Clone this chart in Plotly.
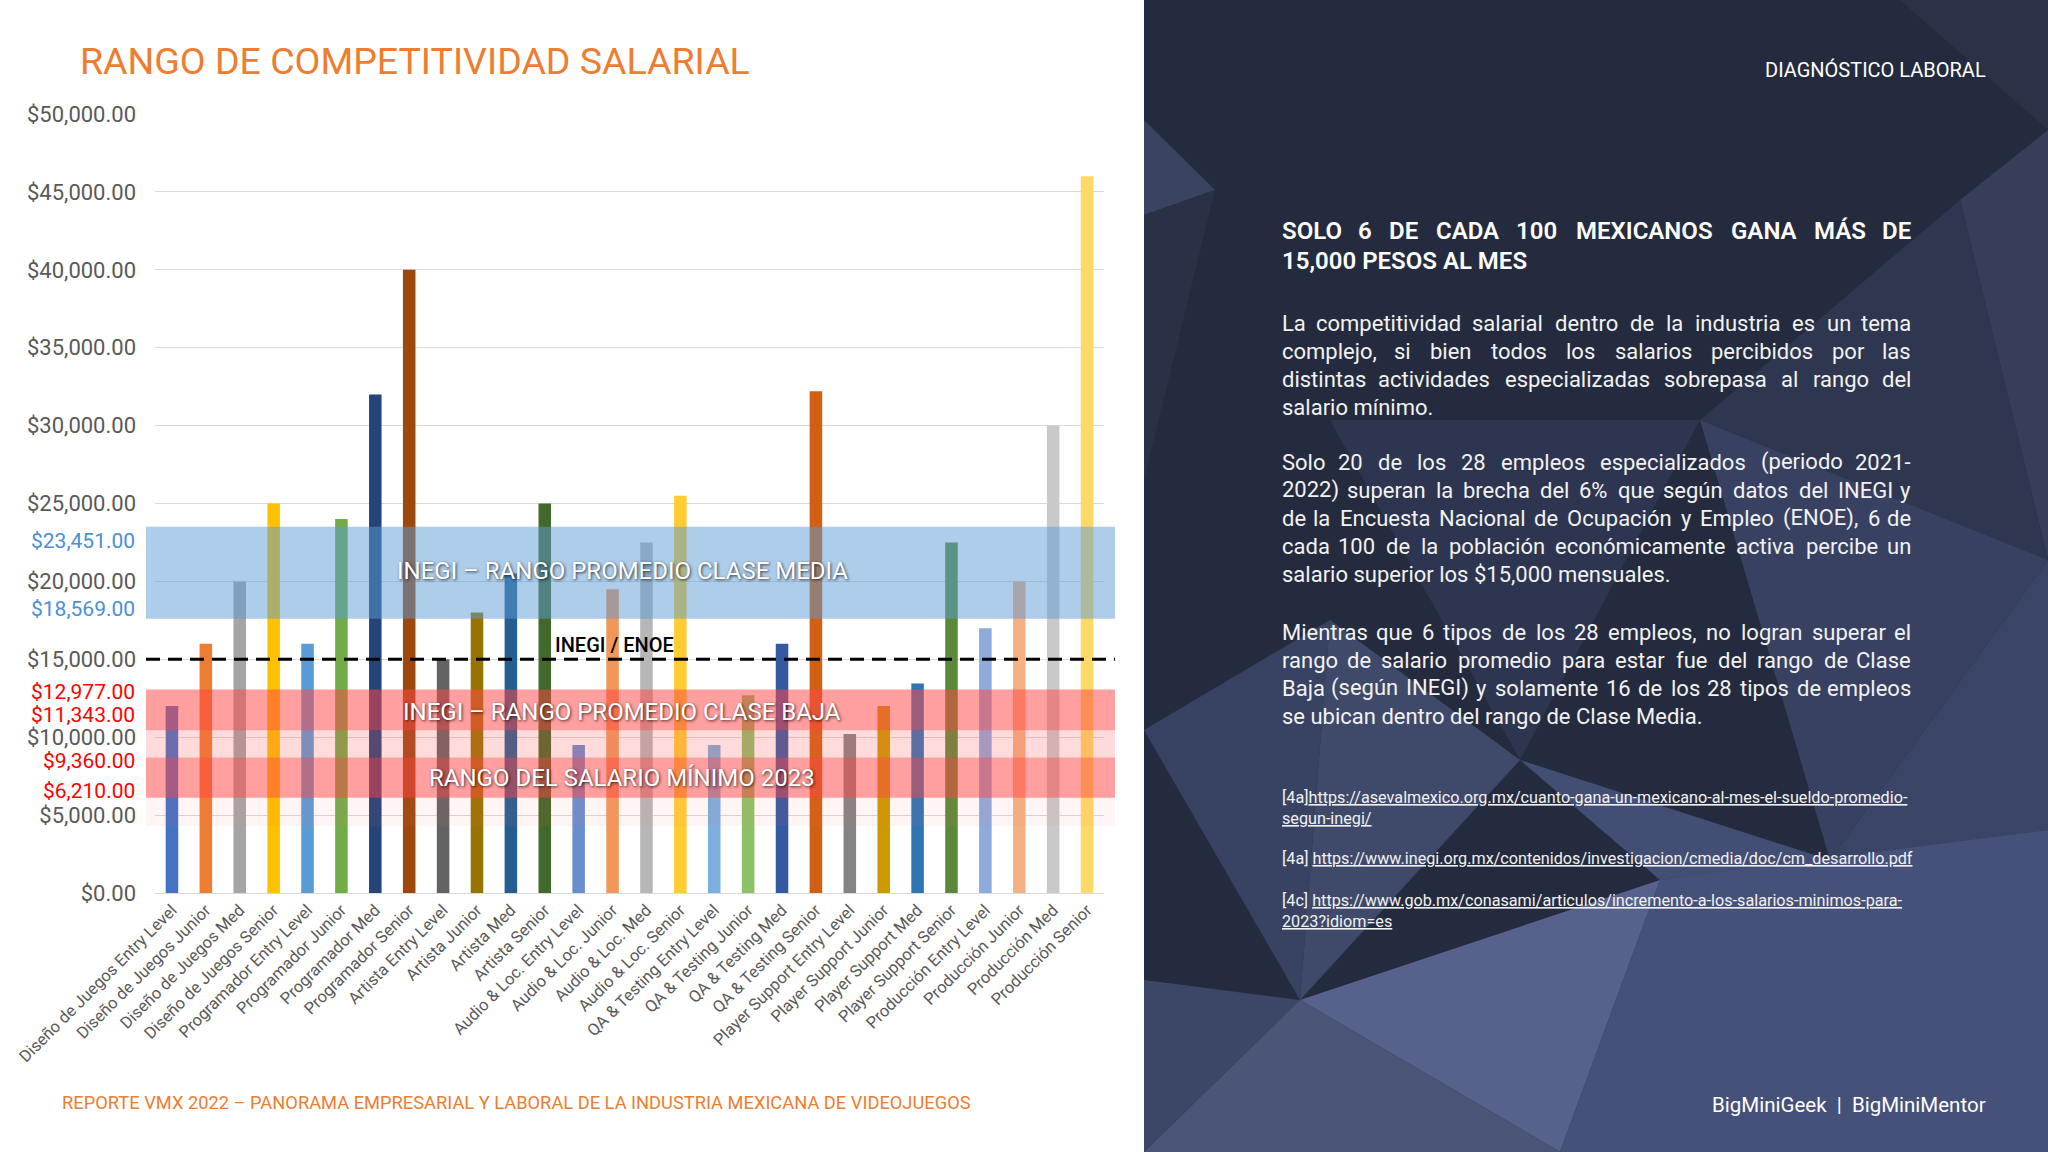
import plotly.graph_objects as go

W, H = 2048, 1152

categories = [
    "Diseño de Juegos Entry Level", "Diseño de Juegos Junior", "Diseño de Juegos Med", "Diseño de Juegos Senior",
    "Programador Entry Level", "Programador Junior", "Programador Med", "Programador Senior",
    "Artista Entry Level", "Artista Junior", "Artista Med", "Artista Senior",
    "Audio & Loc. Entry Level", "Audio & Loc. Junior", "Audio & Loc. Med", "Audio & Loc. Senior",
    "QA & Testing Entry Level", "QA & Testing Junior", "QA & Testing Med", "QA & Testing Senior",
    "Player Support Entry Level", "Player Support Junior", "Player Support Med", "Player Support Senior",
    "Producción Entry Level", "Producción Junior", "Producción Med", "Producción Senior",
]
salaries = [
    12000, 16000, 20000, 25000,
    16000, 24000, 32000, 40000,
    15000, 18000, 20500, 25000,
    9500, 19500, 22500, 25500,
    9500, 12700, 16000, 32200,
    10200, 12000, 13450, 22500,
    17000, 20000, 30000, 46000,
]
bar_colors = [
    "#4472C4", "#ED7D31", "#A5A5A5", "#FFC000", "#5B9BD5", "#70AD47", "#264478",
    "#9E480E", "#636363", "#997300", "#255E91", "#43682B", "#698ED0", "#F1975A",
    "#B7B7B7", "#FFCD33", "#7CAFDD", "#8CC168", "#335AA1", "#D26012", "#848484",
    "#CC9A00", "#2E75B6", "#5A8A39", "#8FAADC", "#F4B183", "#C9C9C9", "#FFD966",
]
y_ticks = [0, 5000, 10000, 15000, 20000, 25000, 30000, 35000, 40000, 45000, 50000]

# reference ranges (as drawn)
band_media = (17600, 23500)
band_baja = (10450, 13060)
band_minimo = (6120, 8700)
enoe_line = 15000

range_labels = ["$23,451.00", "$18,569.00", "$12,977.00", "$11,343.00", "$9,360.00", "$6,210.00"]
range_label_pos = [22613, 18258, 12880, 11420, 8459, 6533]
range_label_colors = ["#4A8FD6", "#4A8FD6", "#FF0000", "#FF0000", "#FF0000", "#FF0000"]

title_text = "RANGO DE COMPETITIVIDAD SALARIAL"
footer_text = "REPORTE VMX 2022 – PANORAMA EMPRESARIAL Y LABORAL DE LA INDUSTRIA MEXICANA DE VIDEOJUEGOS"

heading_lines = ["SOLO 6 DE CADA 100 MEXICANOS GANA MÁS DE", "15,000 PESOS AL MES"]
paragraphs = [
    ["La competitividad salarial dentro de la industria es un tema",
     "complejo, si bien todos los salarios percibidos por las",
     "distintas actividades especializadas sobrepasa al rango del",
     "salario mínimo."],
    ["Solo 20 de los 28 empleos especializados (periodo 2021-",
     "2022) superan la brecha del 6% que según datos del INEGI y",
     "de la Encuesta Nacional de Ocupación y Empleo (ENOE), 6 de",
     "cada 100 de la población económicamente activa percibe un",
     "salario superior los $15,000 mensuales."],
    ["Mientras que 6 tipos de los 28 empleos, no logran superar el",
     "rango de salario promedio para estar fue del rango de Clase",
     "Baja (según INEGI) y solamente 16 de los 28 tipos de empleos",
     "se ubican dentro del rango de Clase Media."],
]
footnotes = [
    ("[4a]", "https://asevalmexico.org.mx/cuanto-gana-un-mexicano-al-mes-el-sueldo-promedio-"),
    ("", "segun-inegi/"),
    ("[4a] ", "https://www.inegi.org.mx/contenidos/investigacion/cmedia/doc/cm_desarrollo.pdf"),
    ("[4c] ", "https://www.gob.mx/conasami/articulos/incremento-a-los-salarios-minimos-para-"),
    ("", "2023?idiom=es"),
]


def px(x):
    return x / W


def py(y):
    return 1 - y / H


FONT = "Roboto, Open Sans, sans-serif"

# approximate Roboto advance widths (em) for text justification
_W = {" ": .248, "$": .561, "%": .732, "(": .341, ")": .347, ",": .196, "-": .276, ".": .263, "/": .412,
      "A": .652, "B": .623, "C": .651, "D": .656, "E": .568, "F": .553, "G": .681, "H": .713, "I": .272,
      "J": .552, "K": .627, "L": .538, "M": .873, "N": .713, "O": .688, "P": .631, "Q": .688, "R": .616,
      "S": .594, "T": .597, "U": .648, "V": .636, "W": .887, "X": .627, "Y": .601, "Z": .599,
      "a": .544, "b": .561, "c": .523, "d": .564, "e": .530, "f": .347, "g": .561, "h": .551, "i": .243,
      "j": .239, "k": .507, "l": .243, "m": .876, "n": .552, "o": .570, "p": .561, "q": .568, "r": .338,
      "s": .516, "t": .327, "u": .551, "v": .484, "w": .751, "x": .496, "y": .473, "z": .496}
_ACC = {"á": "a", "é": "e", "í": "i", "ó": "o", "ú": "u", "ñ": "n", "Á": "A", "É": "E", "Í": "I", "Ó": "O", "Ú": "U"}


def text_w(s, size, k=1.0):
    return sum(_W.get(_ACC.get(c, c), .561) for c in s) * size * k


fig = go.Figure()
fig.add_trace(go.Bar(
    x=categories, y=salaries, marker=dict(color=bar_colors, line=dict(width=0)),
    width=0.37, hoverinfo="skip", showlegend=False,
))

# plot area: x 155..1104, y 114..893 (pixels)
fig.update_layout(
    width=W, height=H,
    margin=dict(l=0, r=0, t=0, b=0),
    paper_bgcolor="white", plot_bgcolor="white",
    xaxis=dict(domain=[px(155), px(1104)], tickangle=-45, automargin=False,
               tickfont=dict(family=FONT, size=16.5, color="#595959"),
               showgrid=False, showline=True, linecolor="#D9D9D9", linewidth=1, ticks=""),
    yaxis=dict(domain=[py(893), py(114)], range=[0, 50000], tickvals=y_ticks, tickformat="$,.2f",
               automargin=False, showgrid=True, gridcolor="#D9D9D9", gridwidth=1, zeroline=False,
               tickfont=dict(family=FONT, size=22, color="#595959"), ticklabelstandoff=18),
    bargap=0.6,
)

shapes = []
bx0, bx1 = px(146), px(1115)
shapes.append(dict(type="rect", xref="paper", yref="y", x0=bx0, x1=bx1, y0=4300, y1=band_minimo[0],
                   fillcolor="rgba(255,120,120,0.07)", line=dict(width=0), layer="above"))
shapes.append(dict(type="rect", xref="paper", yref="y", x0=bx0, x1=bx1, y0=band_minimo[1], y1=band_baja[0],
                   fillcolor="rgba(255,90,90,0.22)", line=dict(width=0), layer="above"))
for lo, hi, col in [(band_media[0], band_media[1], "rgba(91,155,213,0.50)"),
                    (band_baja[0], band_baja[1], "rgba(255,70,70,0.52)"),
                    (band_minimo[0], band_minimo[1], "rgba(255,70,70,0.52)")]:
    shapes.append(dict(type="rect", xref="paper", yref="y", x0=bx0, x1=bx1, y0=lo, y1=hi,
                       fillcolor=col, line=dict(width=0), layer="above"))
shapes.append(dict(type="line", xref="paper", yref="y", x0=bx0, x1=bx1, y0=enoe_line, y1=enoe_line,
                   line=dict(color="black", width=3, dash="14px,8px"), layer="above"))

# right dark panel with low-poly facets
shapes.append(dict(type="rect", xref="paper", yref="paper", x0=px(1144), x1=1, y0=0, y1=1,
                   fillcolor="#252B3E", line=dict(width=0), layer="below"))
facets = [
    ([(1144, 120), (1215, 190), (1144, 215)], "#3A4360"),
    ([(1144, 215), (1215, 190), (1144, 480)], "#2A3045"),
    ([(1900, 0), (2048, 0), (2048, 130)], "#2B3147"),
    ([(1960, 200), (2048, 130), (2048, 560)], "#363E5A"),
    ([(1700, 420), (1960, 200), (2048, 560)], "#2F3650"),
    ([(1330, 420), (1700, 420), (1520, 760)], "#2E3550"),
    ([(1144, 730), (1330, 620), (1300, 1000)], "#384262"),
    ([(1330, 620), (1520, 760), (1300, 1000)], "#3F4969"),
    ([(1700, 420), (2048, 560), (1830, 860)], "#384162"),
    ([(1520, 760), (1830, 860), (1660, 880)], "#434E74"),
    ([(1830, 860), (2048, 560), (2048, 830)], "#3A4466"),
    ([(1300, 1000), (1660, 880), (1560, 1152)], "#56628C"),
    ([(1144, 980), (1300, 1000), (1144, 1152)], "#3C4667"),
    ([(1300, 1000), (1560, 1152), (1144, 1152)], "#4A5578"),
    ([(1660, 880), (2048, 830), (2048, 1152), (1560, 1152)], "#46517A"),
]
for pts, col in facets:
    path = "M " + " L ".join(f"{px(x):.5f},{py(y):.5f}" for x, y in pts) + " Z"
    shapes.append(dict(type="path", xref="paper", yref="paper", path=path,
                       fillcolor=col, line=dict(width=0), layer="below"))
fig.update_layout(shapes=shapes)

ann = []


def add_text(text, x, y, size, color, xanchor="left", weight=None, yref="paper", **kw):
    f = dict(family=FONT, size=size, color=color)
    if weight:
        f["weight"] = weight
    f.update(kw)
    ann.append(dict(text=text, x=px(x), y=py(y) if yref == "paper" else y, xref="paper", yref=yref,
                    xanchor=xanchor, yanchor="middle", showarrow=False, font=f))


def add_justified(line, x0, x1, y, size, color, weight=None, k=1.0, justify=True):
    words = line.split(" ")
    if not justify or len(words) == 1:
        add_text(line, x0, y, size, color, weight=weight)
        return
    widths = [text_w(w, size, k) for w in words]
    gap = (x1 - x0 - sum(widths)) / (len(words) - 1)
    x = x0
    for i, (w, ww) in enumerate(zip(words, widths)):
        if i == 0:
            add_text(w, x, y, size, color, weight=weight)
        elif i == len(words) - 1:
            add_text(w, x1, y, size, color, xanchor="right", weight=weight)
        else:
            add_text(w, x + ww / 2, y, size, color, xanchor="center", weight=weight)
        x += ww + gap


add_text(title_text, 78, 61, 37.5, "#ED7D31")
add_text(footer_text, 60, 1102, 18.3, "#ED7D31")
for t, yv, c in zip(range_labels, range_label_pos, range_label_colors):
    add_text(t, 137, yv, 21, c, xanchor="right", yref="y")
shadow = "1px 1px 3px rgba(0,0,0,0.75)"
for t, yv in [("INEGI – RANGO PROMEDIO CLASE MEDIA", 20687),
              ("INEGI – RANGO PROMEDIO CLASE BAJA", 11642),
              ("RANGO DEL SALARIO MÍNIMO 2023", 7370)]:
    add_text(t, 622, yv, 24, "white", xanchor="center", yref="y", shadow=shadow)
add_text("INEGI / ENOE", 614, 15913, 20, "black", xanchor="center", yref="y", weight=500)

# right panel text
add_text("DIAGNÓSTICO LABORAL", 1988, 70, 20, "white", xanchor="right")
add_text("BigMiniGeek  |  BigMiniMentor", 1988, 1105, 20.5, "white", xanchor="right")
TX0, TX1 = 1280, 1913
add_justified(heading_lines[0], TX0, TX1, 231, 24, "white", weight=600, k=1.04)
add_justified(heading_lines[1], TX0, TX1, 261, 24, "white", weight=600, justify=False)
para_starts = [323, 462, 632]
for start, lines in zip(para_starts, paragraphs):
    for i, line in enumerate(lines):
        add_justified(line, TX0, TX1, start + 28.2 * i, 22, "#F2F2F2", justify=(i < len(lines) - 1))
fn_y = [797, 818, 858, 900, 921]
for (tag, url), yv in zip(footnotes, fn_y):
    add_text(f"{tag}<u>{url}</u>", TX0, yv, 16.2, "#F2F2F2")
fig.update_layout(annotations=ann)

fig.write_html("out.html", config={"displayModeBar": False},
               post_script="document.body.style.margin='0px';document.body.style.overflow='hidden';")
